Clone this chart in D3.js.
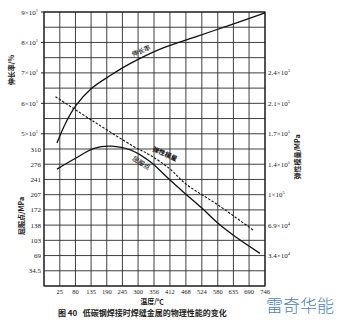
<!DOCTYPE html>
<html>
<head>
<meta charset="utf-8">
<script src="https://cdn.jsdelivr.net/npm/d3@7"></script>
<style>
  body { margin: 0; background: #fff; }
  svg { display: block; }
  .tick-num { font-family: "Liberation Serif", "DejaVu Serif", serif; font-size: 7px; fill: #222; }
  .cn { font-family: "Noto Sans CJK SC", sans-serif; fill: #222; }
</style>
</head>
<body>
<div id="chart"></div>
<script>
// temperature axis (°C)
var tempTicks = [25, 80, 135, 190, 245, 300, 356, 412, 468, 524, 580, 635, 690, 746]

// left upper axis: elongation %
var elongTicks = [50, 60, 70, 80, 90]
var elongLabels = ["5×10", "6×10", "7×10", "8×10", "9×10"]

// left lower axis: yield point MPa
var stressTicks = [34.5, 69, 103.5, 138, 172.5, 207, 241.5, 276, 310.5]
var stressLabels = ["34.5", "69", "103", "138", "172", "207", "241", "276", "310"]

// right axis: elastic modulus MPa
var modTicks = [34500, 69000, 103500, 138000, 172500, 207000, 241500]
var modLabels = [["3.4×10", "4"], ["6.9×10", "4"], ["1×10", "5"], ["1.4×10", "5"], ["1.7×10", "5"], ["2.1×10", "5"], ["2.4×10", "5"]]

// curves
var elongTemp = [15, 47, 82, 135, 205, 275, 388, 507, 623, 746]
var elongValue = [47, 53.8, 59.3, 64.8, 69.3, 73.2, 78.2, 82, 85.7, 89.7]

var yieldTemp = [15, 82, 145, 205, 275, 342, 412, 468, 525, 581, 641, 728]
var yieldValue = [265, 290, 312, 317, 308, 282, 240, 208, 176, 142, 112, 74]

var modTemp = [10, 145, 286, 342, 412, 468, 581, 704]
var modValue = [214500, 186200, 157900, 148400, 132600, 115600, 91800, 63500]

var width = 347
var height = 335
var pLeft = 44, pRight = 265, pTop = 12, pBottom = 286

var svg = d3.select("#chart").append("svg")
  .attr("width", width)
  .attr("height", height)

var x = d3.scaleLinear().domain([-30.5, 746]).range([pLeft, pRight])
var yElong = d3.scaleLinear().domain([0, 90]).range([pBottom, pTop])
var yStress = d3.scaleLinear().domain([0, 621]).range([pBottom, pTop])
var yMod = d3.scaleLinear().domain([0, 310500]).range([pBottom, pTop])

// grid
var grid = svg.append("g").attr("stroke", "#2a2a2a").attr("stroke-width", 0.9)
grid.selectAll(".v")
  .data([-30.5].concat(tempTicks))
  .join("line")
    .attr("class", "v")
    .attr("x1", d => x(d)).attr("x2", d => x(d))
    .attr("y1", pTop).attr("y2", pBottom)
grid.selectAll(".h")
  .data(d3.range(0, 91, 5))
  .join("line")
    .attr("class", "h")
    .attr("x1", pLeft).attr("x2", pRight)
    .attr("y1", d => yElong(d)).attr("y2", d => yElong(d))

// frame a bit heavier
svg.append("rect")
  .attr("x", pLeft).attr("y", pTop)
  .attr("width", pRight - pLeft).attr("height", pBottom - pTop)
  .attr("fill", "none").attr("stroke", "#222").attr("stroke-width", 1.2)

// x ticks
svg.append("g").selectAll("text")
  .data(tempTicks)
  .join("text")
    .attr("class", "tick-num")
    .attr("x", d => x(d))
    .attr("y", pBottom + 8)
    .attr("text-anchor", "middle")
    .style("font-size", "6.5px")
    .text(d => d)

svg.append("text").attr("class", "cn")
  .attr("x", 152).attr("y", 304)
  .attr("text-anchor", "middle")
  .attr("font-size", 7).attr("font-weight", 700)
  .text("温度/℃")

// left upper ticks (elongation)
var gE = svg.append("g")
gE.selectAll("text")
  .data(elongTicks)
  .join("text")
    .attr("class", "tick-num")
    .attr("x", pLeft - 6)
    .attr("y", d => yElong(d) + 2.5)
    .attr("text-anchor", "end")
    .text((d, i) => elongLabels[i])
    .append("tspan").attr("dy", -3).style("font-size", "4.5px").text("1")
gE.selectAll("line")
  .data(elongTicks)
  .join("line")
    .attr("x1", pLeft - 3).attr("x2", pLeft)
    .attr("y1", d => yElong(d)).attr("y2", d => yElong(d))
    .attr("stroke", "#222")

// left lower ticks (yield)
svg.append("g").selectAll("text")
  .data(stressTicks)
  .join("text")
    .attr("class", "tick-num")
    .attr("x", pLeft - 3)
    .attr("y", d => yStress(d) + 2.5)
    .attr("text-anchor", "end")
    .text((d, i) => stressLabels[i])

// right ticks (modulus)
svg.append("g").selectAll("text")
  .data(modTicks)
  .join("text")
    .attr("class", "tick-num")
    .attr("x", pRight + 3)
    .attr("y", d => yMod(d) + 2.5)
    .text((d, i) => modLabels[i][0])
    .append("tspan").attr("dy", -3).style("font-size", "4.5px").text((d, i) => modLabels[i][1])

// axis titles
svg.append("text").attr("class", "cn")
  .attr("transform", "translate(14,70) rotate(-90)")
  .attr("text-anchor", "middle").attr("font-size", 7).attr("font-weight", 700)
  .text("伸长率/%")
svg.append("text").attr("class", "cn")
  .attr("transform", "translate(24,216) rotate(-90)")
  .attr("text-anchor", "middle").attr("font-size", 7).attr("font-weight", 700)
  .text("屈服点/MPa")
svg.append("text").attr("class", "cn")
  .attr("transform", "translate(300,157) rotate(-90)")
  .attr("text-anchor", "middle").attr("font-size", 7).attr("font-weight", 700)
  .text("弹性模量/MPa")

// curves
var line = d3.line().curve(d3.curveCatmullRom.alpha(0.5))
svg.append("path")
  .attr("d", line(elongTemp.map((t, i) => [x(t), yElong(elongValue[i])])))
  .attr("fill", "none").attr("stroke", "#111").attr("stroke-width", 1.3)
svg.append("path")
  .attr("d", line(yieldTemp.map((t, i) => [x(t), yStress(yieldValue[i])])))
  .attr("fill", "none").attr("stroke", "#111").attr("stroke-width", 1.3)
svg.append("path")
  .attr("d", line(modTemp.map((t, i) => [x(t), yMod(modValue[i])])))
  .attr("fill", "none").attr("stroke", "#111").attr("stroke-width", 1.1)
  .attr("stroke-dasharray", "2.5,1.5")

// curve labels
function curveLabel(text, px, py, angle, weight) {
  svg.append("text").attr("class", "cn")
    .attr("transform", `translate(${px},${py}) rotate(${angle})`)
    .attr("text-anchor", "middle").attr("font-size", 6.5).attr("font-weight", weight)
    .text(text)
}
curveLabel("伸长率", 142, 53, -22, 500)
curveLabel("弹性模量", 164, 156, 24, 900)
curveLabel("屈服点", 140, 165, 32, 500)

// caption
svg.append("text").attr("class", "cn")
  .attr("x", 58).attr("y", 316)
  .attr("font-size", 8).attr("font-weight", 700)
  .attr("xml:space", "preserve")
  .text("图 40   低碳钢焊接时焊缝金属的物理性能的变化")

// watermark
svg.append("text")
  .attr("x", 300).attr("y", 312)
  .attr("text-anchor", "middle")
  .attr("font-family", "Noto Sans CJK SC, sans-serif")
  .attr("font-size", 17).attr("font-weight", 300)
  .attr("fill", "#4a7fc4")
  .text("雷奇华能")
</script>
</body>
</html>
